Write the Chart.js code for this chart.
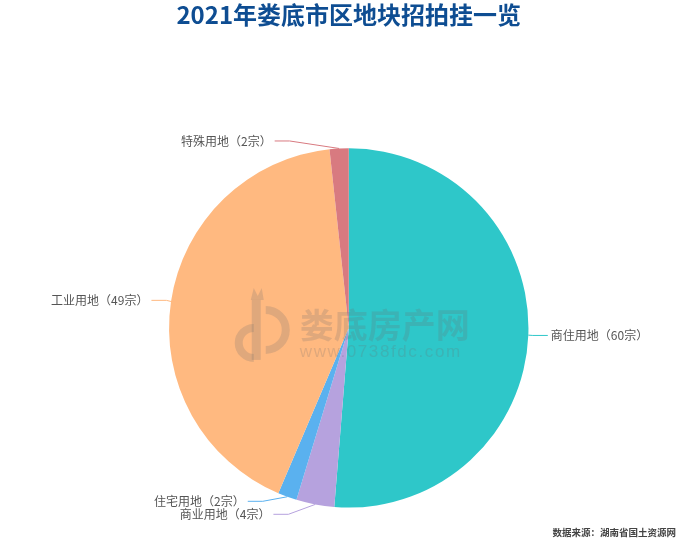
<!DOCTYPE html>
<html>
<head>
<meta charset="utf-8">
<script src="https://cdn.jsdelivr.net/npm/chart.js@4.4.1/dist/chart.umd.min.js"></script>
<style>
  html, body { margin: 0; padding: 0; background: #fff; }
  #wrap { width: 680px; height: 545px; position: relative; }
</style>
</head>
<body>
<div id="wrap"><canvas id="landChart"></canvas></div>
<script>
const categories = ['商住用地', '商业用地', '住宅用地', '工业用地', '特殊用地']
const lotCounts = [60, 4, 2, 49, 2]
const sliceColors = ['#2ec7c9', '#b6a2de', '#5ab1ef', '#ffb980', '#d87a80']
const titleText = '2021年娄底市区地块招拍挂一览'
const sourceText = '数据来源：湖南省国土资源网'
const siteName = '娄底房产网'
const siteUrl = 'www.0738fdc.com'

const FONT = '"Noto Sans CJK SC", "Noto Sans", sans-serif'

// outside labels with elbow leader lines; labels on each side are pushed
// apart when they collide and then slid along a ring around the pie
const outerLabels = {
  id: 'outerLabels',
  afterDatasetsDraw(chart, args, opts) {
    const meta = chart.getDatasetMeta(0)
    const ctx = chart.ctx
    const len1 = opts.length, len2 = opts.length2, h = opts.itemHeight
    let cx = 0, cy = 0, r = 0
    const items = meta.data.map((arc, i) => {
      const p = arc.getProps(['x', 'y', 'outerRadius', 'startAngle', 'endAngle'], true)
      cx = p.x; cy = p.y; r = p.outerRadius
      const mid = (p.startAngle + p.endAngle) / 2
      const dx = Math.cos(mid), dy = Math.sin(mid)
      const dir = dx < 0 ? -1 : 1
      return {
        i, dir,
        x0: cx + r * dx,
        y0: cy + r * dy,
        x: cx + (r + len1) * dx + dir * (len2 + 5),
        y: cy + (r + len1) * dy,
      }
    })

    const R = r + len1 + len2
    for (const dir of [1, -1]) {
      const list = items.filter(it => it.dir === dir).sort((a, b) => a.y - b.y)
      const n = list.length
      if (!n) continue
      const shiftUp = (end, delta) => {
        for (let j = end; j >= 0; j--) {
          list[j].y -= delta
          if (j > 0 && list[j].y > list[j - 1].y + h) break
        }
      }
      const shiftDown = (start, end, delta) => {
        for (let j = start; j < end; j++) {
          list[j].y += delta
          if (j > start && j + 1 < end && list[j + 1].y > list[j].y + h) {
            shiftUp(j, delta / 2)
            return
          }
        }
        shiftUp(end - 1, delta / 2)
      }
      let lastY = 0
      for (let i = 0; i < n; i++) {
        const delta = list[i].y - lastY
        if (delta < 0) shiftDown(i, n, -delta)
        lastY = list[i].y + h
      }
      if (chart.height - lastY < 0) shiftUp(n - 1, lastY - chart.height)

      const slide = (group, isDown) => {
        let last = isDown ? Number.MAX_VALUE : 0
        for (const it of group) {
          const ady = Math.abs(it.y - cy)
          let adx = ady < r + len1 ? Math.sqrt(R * R - ady * ady) : Math.abs(it.x - cx)
          if (isDown && adx >= last) adx = last - 10
          if (!isDown && adx <= last) adx = last + 10
          it.x = cx + adx * dir
          last = adx
        }
      }
      slide(list.filter(it => it.y < cy), false)
      slide(list.filter(it => it.y >= cy), true)
    }

    ctx.save()
    ctx.lineWidth = 1
    ctx.font = `12px ${FONT}`
    ctx.textBaseline = 'middle'
    for (const it of items) {
      const endX = it.x - it.dir * 3
      const bendX = endX - it.dir * len2
      ctx.strokeStyle = sliceColors[it.i]
      ctx.beginPath()
      ctx.moveTo(it.x0, it.y0)
      ctx.lineTo(bendX, it.y)
      ctx.lineTo(endX, it.y)
      ctx.stroke()
      ctx.fillStyle = opts.color
      ctx.textAlign = it.dir < 0 ? 'right' : 'left'
      ctx.fillText(`${categories[it.i]}（${lotCounts[it.i]}宗）`, it.x, it.y)
    }
    ctx.restore()
  }
}

// faint site mark over the middle of the pie, plus the source note
const siteMark = {
  id: 'siteMark',
  afterDatasetsDraw(chart) {
    const ctx = chart.ctx
    const arc = chart.getDatasetMeta(0).data[0]
    const cx = arc.x, cy = arc.y
    ctx.save()
    ctx.fillStyle = 'rgba(111,111,111,0.22)'
    ctx.strokeStyle = 'rgba(111,111,111,0.22)'

    // logo
    const lx = cx - 117, ly = cy - 40
    ctx.lineWidth = 8
    ctx.beginPath()
    ctx.arc(lx + 22, ly + 55, 15, Math.PI * 0.5, Math.PI * 1.5)
    ctx.stroke()
    ctx.fillRect(lx + 20, ly + 12, 9, 60)
    ctx.beginPath()
    ctx.moveTo(lx + 19, ly + 12)
    ctx.lineTo(lx + 22, ly)
    ctx.lineTo(lx + 26, ly + 8)
    ctx.lineTo(lx + 30, ly)
    ctx.lineTo(lx + 32, ly + 12)
    ctx.closePath()
    ctx.fill()
    ctx.beginPath()
    ctx.arc(lx + 34, ly + 42, 20, -Math.PI * 0.5, Math.PI * 0.5)
    ctx.stroke()

    ctx.textBaseline = 'middle'
    ctx.textAlign = 'left'
    ctx.font = `bold 34px ${FONT}`
    ctx.fillText(siteName, cx - 49, cy - 3)
    ctx.font = '17px "Liberation Sans", Arial, sans-serif'
    if ('letterSpacing' in ctx) ctx.letterSpacing = '1.6px'
    ctx.fillText(siteUrl, cx - 49, cy + 24)
    ctx.restore()
  },
  afterDraw(chart) {
    const ctx = chart.ctx
    ctx.save()
    ctx.fillStyle = '#444'
    ctx.font = `bold 9.5px ${FONT}`
    ctx.textAlign = 'right'
    ctx.textBaseline = 'middle'
    ctx.fillText(sourceText, chart.width - 4, chart.height - 13)
    ctx.restore()
  }
}

new Chart(document.getElementById('landChart'), {
  type: 'pie',
  data: {
    labels: categories,
    datasets: [{
      data: lotCounts,
      backgroundColor: sliceColors,
      borderWidth: 0,
    }]
  },
  options: {
    responsive: true,
    maintainAspectRatio: false,
    animation: false,
    events: [],
    layout: {
      padding: { top: 0, left: 169, right: 151.5, bottom: 37.4 }
    },
    plugins: {
      legend: { display: false },
      tooltip: { enabled: false },
      title: {
        display: true,
        text: titleText,
        color: '#0e4d92',
        font: { family: FONT, size: 24, weight: 'bold', lineHeight: 1.2 },
        padding: { top: 0.6, bottom: 118.8 },
      },
      outerLabels: {
        length: 7.5,
        length2: 15,
        itemHeight: 13,
        color: '#555',
      },
    }
  },
  plugins: [siteMark, outerLabels]
})
</script>
</body>
</html>
